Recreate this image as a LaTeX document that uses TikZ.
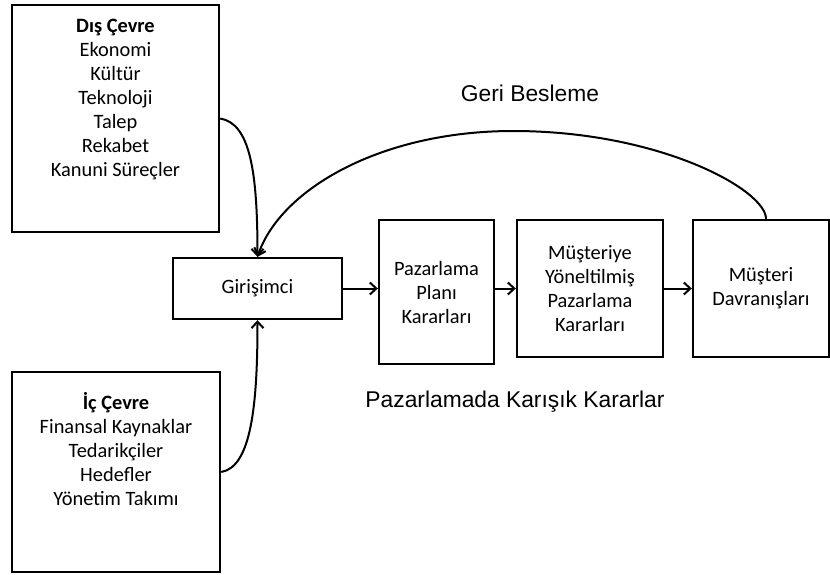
\documentclass[tikz,border=0pt]{standalone}
\usepackage{fontspec}
\setmainfont{Carlito}
\newfontfamily\helv{Liberation Sans}
\usetikzlibrary{arrows.meta}
\begin{document}
\begin{tikzpicture}[x=1pt,y=-1pt,
  boxstyle/.style={draw=black,line width=2.4pt,rectangle,inner sep=0pt},
  boxtext/.style={font=\fontsize{20.4}{24}\selectfont,align=center,inner sep=0pt},
  conn/.style={line width=2pt,-{Straight Barb[length=6.5pt,width=12pt]}},
  captext/.style={font=\helv\fontsize{22.8}{26}\selectfont,inner sep=0pt}]
\useasboundingbox (0,0) rectangle (830,574);
% boxes
\node[boxstyle,minimum width=207pt,minimum height=227pt] (dis) at (115.5,118.5) {};
\node[boxtext,anchor=north] (distxt) at (115.5,18.5) {\textbf{Dış Çevre}\\Ekonomi\\Kültür\\Teknoloji\\Talep\\Rekabet\\Kanuni Süreçler};
\node[boxstyle,minimum width=208pt,minimum height=200pt] (ic) at (116,472) {};
\node[boxtext,anchor=north] (ictxt) at (116,392) {\textbf{İç Çevre}\\Finansal Kaynaklar\\Tedarikçiler\\Hedefler\\Yönetim Takımı};
\node[boxstyle,boxtext,minimum width=169pt,minimum height=61pt] (gir) at (257.5,288.5) {Girişimci};
\node[boxstyle,boxtext,minimum width=115pt,minimum height=144pt] (paz) at (436.5,292) {Pazarlama\\Planı\\Kararları};
\node[boxstyle,boxtext,minimum width=146pt,minimum height=137pt] (mty) at (590,288.5) {Müşteriye\\Yöneltilmiş\\Pazarlama\\Kararları};
\node[boxstyle,boxtext,minimum width=136pt,minimum height=137pt] (mus) at (761,288.5) {Müşteri\\Davranışları};
% captions
\node[captext] (geri) at (530,93) {Geri Besleme};
\node[captext] (karar) at (515,402) {Pazarlamada Karışık Kararlar};
% connectors
\draw[conn] (dis.east) .. controls +(30,5) and +(0,-85) .. (gir.north);
\draw[conn] (ic.east) .. controls +(30,-5) and +(0,85) .. (gir.south);
\draw[conn] ([xshift=5pt]mus.north) .. controls (766,190) and (660,131) .. (513,131)
  .. controls (380,131) and (280,190) .. (gir.north);
\draw[conn] (gir.east) -- (gir.east -| paz.west);
\draw[conn] (paz.east |- mty.west) -- (mty.west);
\draw[conn] (mty.east) -- (mus.west);
\end{tikzpicture}
\end{document}
